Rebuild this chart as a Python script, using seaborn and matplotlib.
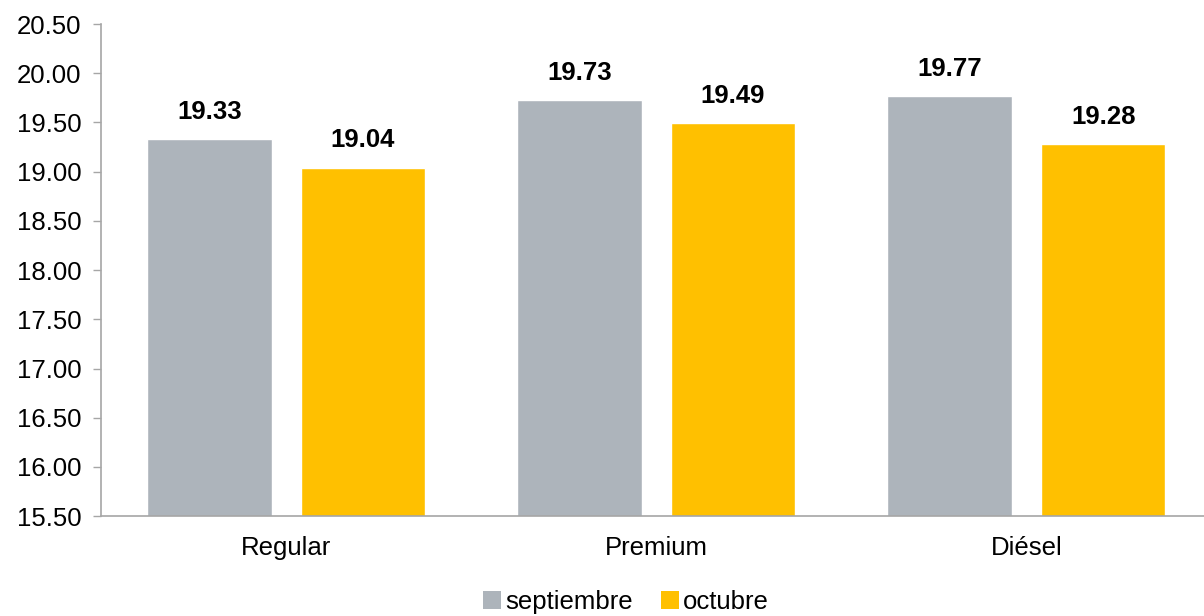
import pandas as pd
import seaborn as sns
import matplotlib.pyplot as plt
from matplotlib.patches import Patch

categories = ["Regular", "Premium", "Diésel"]
months = ["septiembre", "octubre"]
sep_values = [19.33, 19.73, 19.77]
oct_values = [19.04, 19.49, 19.28]
yticks = [15.5, 16.0, 16.5, 17.0, 17.5, 18.0, 18.5, 19.0, 19.5, 20.0, 20.5]

colors = {"septiembre": "#ADB4BB", "octubre": "#FFC000"}

df = pd.DataFrame({
    "producto": categories * 2,
    "mes": [months[0]] * 3 + [months[1]] * 3,
    "precio": sep_values + oct_values,
})

sns.set_style("white")
plt.rcParams["font.family"] = ["Liberation Sans", "DejaVu Sans"]
plt.rcParams["text.color"] = "black"
plt.rcParams["xtick.color"] = "black"
plt.rcParams["ytick.color"] = "black"

fig = plt.figure(figsize=(12.04, 6.16), dpi=100)
ax = fig.add_axes([0.084, 0.162, 0.916, 0.799])

sns.barplot(data=df, x="producto", y="precio", hue="mes", palette=colors,
            width=0.83, gap=0.19, ax=ax, legend=False, saturation=1)

for cont in ax.containers:
    ax.bar_label(cont, fmt="%.2f", padding=11, fontsize=18.5, fontweight="bold")

ax.set_ylim(15.5, 20.5)
ax.set_yticks(yticks)
ax.set_yticklabels([f"{v:.2f}" for v in yticks])
ax.set_xlim(-0.5, 2.48)
ax.set_xlabel("")
ax.set_ylabel("")
ax.tick_params(axis="y", labelsize=18.5, length=6, width=1, color="#A6A6A6",
               left=True, pad=8)
ax.tick_params(axis="x", labelsize=18.5, length=0, pad=14)

for side in ["top", "right"]:
    ax.spines[side].set_visible(False)
for side in ["left", "bottom"]:
    ax.spines[side].set_color("#A6A6A6")
    ax.spines[side].set_linewidth(1.2)

handles = [Patch(facecolor=colors[m], edgecolor="none") for m in months]
fig.legend(handles, months, loc="lower center", bbox_to_anchor=(0.52, -0.035),
           ncol=2, frameon=False, fontsize=18.5, handlelength=0.7,
           handleheight=0.7, handletextpad=0.15, columnspacing=1.1)

fig.savefig("out.png", dpi=100)
